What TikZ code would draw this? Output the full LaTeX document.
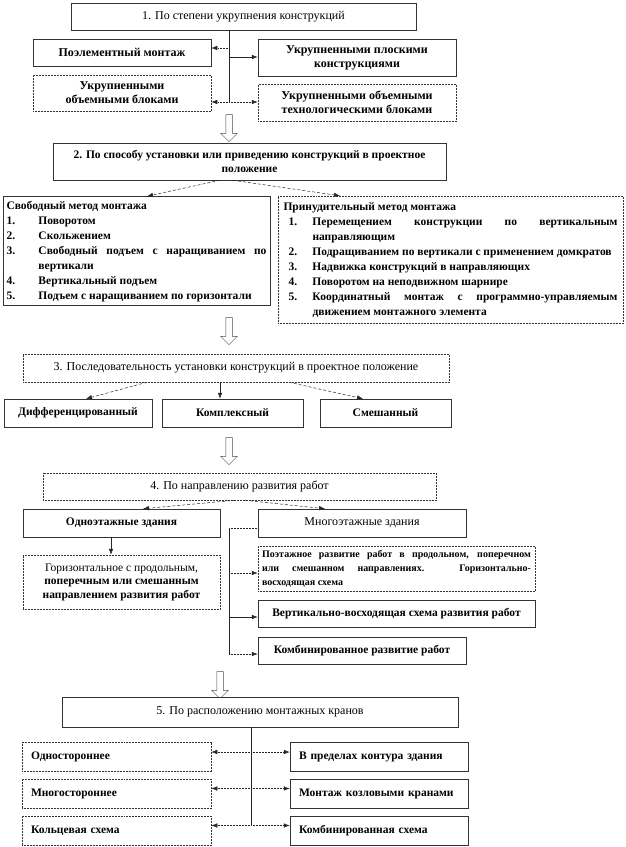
\documentclass[tikz,border=0pt]{standalone}
\usepackage{fontspec}
\setmainfont{Liberation Serif}
\usepackage{array}
\usetikzlibrary{arrows.meta,shapes.arrows}
\tikzset{
  box/.style={draw=black!80,line width=0.5pt,fill=white,align=center,
              font=\fontsize{11.5}{13.5}\selectfont\bfseries,inner sep=2pt},
  dbox/.style={box,densely dotted},
  bigbox/.style={box,font=\fontsize{12}{14}\selectfont\bfseries},
  hd/.style={box,font=\fontsize{12}{14}\selectfont},
  lst/.style={box,font=\fontsize{11.5}{15}\selectfont\bfseries},
  arr/.style={-{Latex[length=6pt,width=4.5pt]},line width=0.5pt,black!85},
  darr/.style={arr,densely dashed},
  tarr/.style={arr,densely dotted},
  trunk/.style={line width=0.5pt,black!85},
  hollow/.style={single arrow,draw=black!70,line width=0.5pt,fill=white,rotate=-90,
                 minimum height=27pt,minimum width=16pt,single arrow head extend=5pt,inner sep=3pt},
}
\begin{document}
\begin{tikzpicture}[x=1pt,y=-1pt]
\useasboundingbox (0,0) rectangle (626,847);
% 1. degree of enlargement
\node[hd,minimum width=345pt,minimum height=27pt] (st1) at (243.5,16.5) {1. По степени укрупнения конструкций};
\node[bigbox,minimum width=178pt,minimum height=27pt] (elem) at (122,52.5) {Поэлементный монтаж};
\node[bigbox,densely dotted,minimum width=178pt,minimum height=36pt] (vol) at (122,93) {Укрупненными\\объемными блоками};
\node[bigbox,minimum width=198pt,minimum height=37pt] (flat) at (357,57.5) {Укрупненными плоскими\\конструкциями};
\node[bigbox,densely dotted,minimum width=198pt,minimum height=37pt] (tech) at (357,102.5) {Укрупненными объемными\\технологическими блоками};
\coordinate (a1) at (229,48);
\coordinate (a2) at (229,57);
\coordinate (a3) at (229,102);
\draw[trunk] (st1.south -| a1) -- (a3);
\draw[tarr] (a1) -- (a1 -| elem.east);
\draw[arr] (a2) -- (a2 -| flat.west);
\draw[tarr] (a3) -- (a3 -| vol.east);
\draw[tarr] (a3) -- (a3 -| tech.west);
\node[hollow] (down1) at (229,126.5) {};
% 2. way of installation
\node[box,minimum width=393pt,minimum height=37pt] (st2) at (249.5,161.5) {2. По способу установки или приведению конструкций в проектное\\положение};
\node[lst,minimum width=267pt,minimum height=108pt] (free) at (136.5,251) {%
  \begin{tabular}{@{}p{32pt}@{}p{228pt}@{}}
  \multicolumn{2}{@{}l@{}}{Свободный метод монтажа}\\
  1. & Поворотом\\
  2. & Скольжением\\
  3. & Свободный подъем с наращиванием по\linebreak вертикали\\
  4. & Вертикальный подъем\\
  5. & Подъем с наращиванием по горизонтали
  \end{tabular}};
\node[lst,densely dotted,minimum width=345pt,minimum height=127pt] (forced) at (450.5,259.5) {%
  \begin{tabular}{@{\hspace{5pt}}p{24pt}@{}p{305pt}@{}}
  \multicolumn{2}{@{}l@{}}{Принудительный метод монтажа}\\
  1. & Перемещением конструкции по вертикальным\linebreak направляющим\\
  2. & Подращиванием по вертикали с применением домкратов\\
  3. & Надвижка конструкций в направляющих\\
  4. & Поворотом на неподвижном шарнире\\
  5. & Координатный монтаж с программно-управляемым\linebreak движением монтажного элемента
  \end{tabular}};
\draw[darr] ([xshift=-29.5pt]st2.south) -- ([xshift=10.5pt]free.north);
\draw[darr] ([xshift=-16.5pt]st2.south) -- ([xshift=-110.5pt]forced.north);
\node[hollow] (down2) at (229,329.5) {};
% 3. sequence of installation
\node[hd,densely dotted,minimum width=426pt,minimum height=28pt] (st3) at (236,368) {3. Последовательность установки конструкций в проектное положение};
\node[box,minimum width=148pt,minimum height=28pt] (diff) at (78,413) {Дифференцированный};
\node[box,minimum width=141pt,minimum height=28pt] (compl) at (232.5,413) {Комплексный};
\node[box,minimum width=131pt,minimum height=28pt] (mixed) at (385.5,413) {Смешанный};
\draw[darr] ([xshift=-89pt]st3.south) -- ([xshift=8pt]diff.north);
\draw[arr] ([xshift=-16pt]st3.south) -- ([xshift=-12.5pt]compl.north);
\draw[darr] ([xshift=53pt]st3.south) -- ([xshift=-22.5pt]mixed.north);
\node[hollow] (down3) at (229,449.5) {};
% 4. direction of works
\node[hd,densely dotted,minimum width=393pt,minimum height=27pt] (st4) at (239.5,486.5) {4. По направлению развития работ};
\node[box,minimum width=197pt,minimum height=28pt] (one) at (121.5,523) {Одноэтажные здания};
\node[dbox,minimum width=197pt,minimum height=54pt] (hor) at (121.5,582) {{\mdseries Горизонтальное с продольным,}\\поперечным или смешанным\\направлением развития работ};
\node[hd,minimum width=208pt,minimum height=28pt] (multi) at (362,523) {Многоэтажные здания};
\node[dbox,font=\fontsize{10}{14}\selectfont\bfseries,align=justify,inner xsep=4pt,text width=269pt,minimum height=45pt] (r2) at (396.5,568.5) {Поэтажное развитие работ в продольном, поперечном\linebreak или смешанном направлениях. Горизонтально-\linebreak восходящая схема};
\node[box,minimum width=277pt,minimum height=27pt] (r3) at (396.5,613.5) {Вертикально-восходящая схема развития работ};
\node[box,minimum width=208pt,minimum height=27pt] (r4) at (362,650.5) {Комбинированное развитие работ};
\draw[darr] ([xshift=-4.5pt]st4.south) -- ([xshift=21.5pt]one.north);
\draw[darr] ([xshift=5.5pt]st4.south) -- ([xshift=-37pt]multi.north);
\draw[arr] ([xshift=-10.5pt]one.south) -- ([xshift=-10.5pt]hor.north);
\coordinate (b0) at (229,528);
\coordinate (b3) at (229,654);
\draw[trunk] (b0) -- (b3);
\draw[trunk,densely dotted] (b0) -- (b0 -| multi.west);
\foreach \n/\y/\s in {r2/573/tarr, r3/617/arr, r4/654/tarr}{
  \coordinate (k\n) at (229,\y);
  \draw[\s] (k\n) -- (k\n -| \n.west);}
\node[hollow] (down4) at (220,683.5) {};
% 5. position of cranes
\node[hd,minimum width=396pt,minimum height=30pt] (st5) at (260,712) {5. По расположению монтажных кранов};
\foreach \y/\l/\r [count=\k] in {757/Одностороннее/В пределах контура здания,
    793.5/Многостороннее/Монтаж козловыми кранами,
    830.5/Кольцевая схема/Комбинированная схема}{
  \node[dbox,align=left,inner xsep=9pt,text width=171pt,minimum height=29pt] (L\k) at (116.5,\y) {\l};
  \node[box,align=left,inner xsep=9pt,text width=160pt,minimum height=29pt] (R\k) at (379,\y) {\r};
  \coordinate (c\k) at (251,\y-5);
  \draw[tarr] (c\k) -- (c\k -| L\k.east);
  \draw[tarr] (c\k) -- (c\k -| R\k.west);}
\draw[trunk] (st5.south -| c1) -- (c3);
\end{tikzpicture}
\end{document}
